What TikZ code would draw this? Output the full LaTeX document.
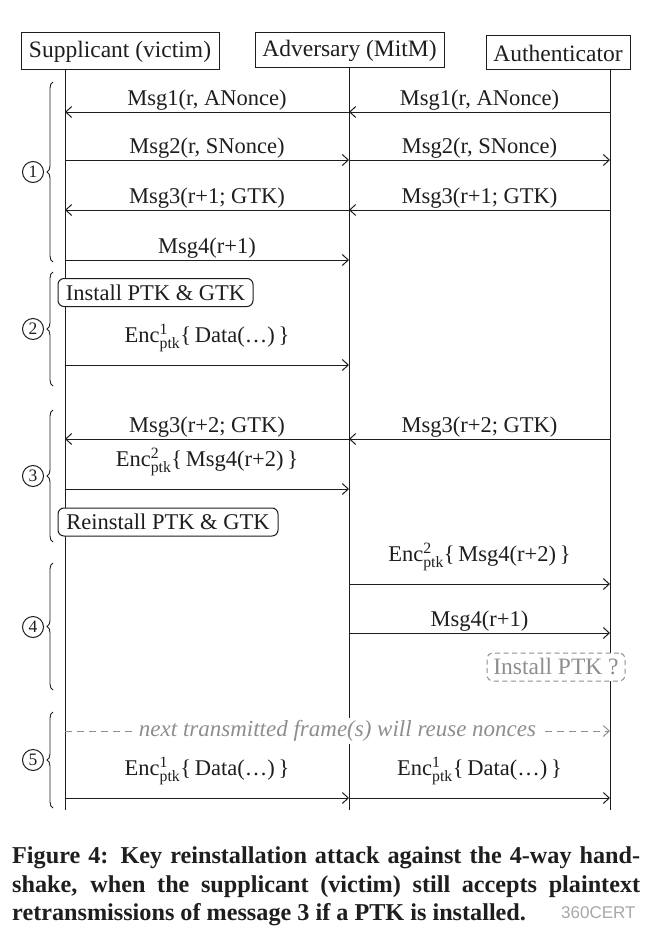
\documentclass[tikz,border=0pt]{standalone}
\usepackage{amsmath}
\usepackage{fontspec}
\setmainfont{Liberation Serif}
\newfontfamily\wmfont{Liberation Sans}
\usetikzlibrary{arrows.meta,decorations.pathreplacing}
\definecolor{ink}{HTML}{1E1E1E}
\definecolor{grayink}{HTML}{8E8E8E}
\definecolor{wmgray}{HTML}{A8A8A8}
\begin{document}
\begin{tikzpicture}[x=1pt,y=-1pt,
  actor/.style={draw=ink, line width=1pt, font=\fontsize{23.5}{27}\selectfont, text=ink, inner sep=0pt},
  life/.style={draw=ink, line width=1pt},
  msg/.style={draw=ink, line width=1pt, -{Straight Barb[length=6pt,width=11pt]}},
  lbl/.style={font=\fontsize{22.5}{26}\selectfont, text=ink, inner sep=0pt, anchor=base, yshift=7pt},
  enclbl/.style={lbl, yshift=16pt},
  statebox/.style={draw=ink, line width=1pt, rounded corners=6pt, fill=white, text=ink,
    font=\fontsize{22.5}{26}\selectfont, inner sep=0pt, minimum height=28pt},
  grp/.style={draw=ink, line width=0.9pt, decorate, decoration={brace, amplitude=6pt}},
  num/.style={draw=ink, circle, line width=1pt, minimum size=21pt, inner sep=0pt, text=ink,
    font=\fontsize{17.5}{17.5}\selectfont},
  caption/.style={font=\fontsize{24.2}{28}\selectfont\bfseries, text=ink, inner sep=0pt, anchor=base west},
]
\useasboundingbox (0,0) rectangle (653,942);
\fill[white] (0,0) rectangle (653,942);

% actors
\node[actor, minimum width=198pt, minimum height=37pt] (sup) at (120,51.5) {Supplicant (victim)};
\node[actor, minimum width=189pt, minimum height=35pt] (adv) at (349.5,50.5) {Adversary (MitM)};
\node[actor, minimum width=144pt, minimum height=34pt] (auth) at (558,53) {Authenticator};

% lifeline end points
\coordinate (sEnd) at (65,810);
\coordinate (aEnd) at (349,810);
\coordinate (tEnd) at (610,810);
\draw[life] (sEnd |- sup.south) -- (sEnd);
\draw[life] (aEnd |- adv.south) -- (aEnd);
\draw[life] (tEnd |- auth.south) -- (tEnd);

% row coordinates
\foreach \n/\y in {1/112,2/160,3/210,4/260,6/365,7/439,8/489,10/584,11/633,13/731,14/798} {
  \coordinate (s\n) at (65,\y);
  \coordinate (a\n) at (349,\y);
  \coordinate (t\n) at (610,\y);
}

% group 1
\draw[msg] (t1) -- node[lbl]{Msg1(r, ANonce)} (a1);
\draw[msg] (a1) -- node[lbl]{Msg1(r, ANonce)} (s1);
\draw[msg] (s2) -- node[lbl]{Msg2(r, SNonce)} (a2);
\draw[msg] (a2) -- node[lbl]{Msg2(r, SNonce)} (t2);
\draw[msg] (t3) -- node[lbl]{Msg3(r+1; GTK)} (a3);
\draw[msg] (a3) -- node[lbl]{Msg3(r+1; GTK)} (s3);
\draw[msg] (s4) -- node[lbl]{Msg4(r+1)} (a4);

% group 2
\node[statebox, minimum width=195pt] (inst) at (155.5,292.5) {Install PTK \& GTK};
\draw[msg] (s6) -- node[enclbl]{Enc$^{\text{1}}_{\text{ptk}}$\{\,Data(\dots)\,\}} (a6);

% group 3
\draw[msg] (t7) -- node[lbl]{Msg3(r+2; GTK)} (a7);
\draw[msg] (a7) -- node[lbl]{Msg3(r+2; GTK)} (s7);
\draw[msg] (s8) -- node[enclbl]{Enc$^{\text{2}}_{\text{ptk}}$\{\,Msg4(r+2)\,\}} (a8);
\node[statebox, minimum width=220pt] (reinst) at (168,522) {Reinstall PTK \& GTK};

% group 4
\draw[msg] (a10) -- node[enclbl]{Enc$^{\text{2}}_{\text{ptk}}$\{\,Msg4(r+2)\,\}} (t10);
\draw[msg] (a11) -- node[lbl]{Msg4(r+1)} (t11);
\node[statebox, draw=grayink, text=grayink, dashed, dash pattern=on 5pt off 3.5pt, minimum width=138pt,
  font=\fontsize{23.5}{27}\selectfont] (q) at (556,667) {Install PTK ?};

% group 5
\draw[draw=grayink, line width=1pt, dash pattern=on 7pt off 5pt, -{Straight Barb[length=6pt,width=11pt]}]
  (s13) -- node[fill=white, text=grayink, inner xsep=6pt, inner ysep=2pt, font=\fontsize{23}{27}\selectfont\itshape]{next transmitted frame(s) will reuse nonces} (t13);
\draw[msg] (s14) -- node[enclbl]{Enc$^{\text{1}}_{\text{ptk}}$\{\,Data(\dots)\,\}} (a14);
\draw[msg] (a14) -- node[enclbl]{Enc$^{\text{1}}_{\text{ptk}}$\{\,Data(\dots)\,\}} (t14);

% braces and numbers
\draw[grp] (53,262) -- (53,82);
\draw[grp] (53,386) -- (53,272);
\draw[grp] (53,542) -- (53,410);
\draw[grp] (53,690) -- (53,563);
\draw[grp] (53,808) -- (53,712);
\node[num] (n1) at (33,172) {1};
\node[num] (n2) at (33,329) {2};
\node[num] (n3) at (33,476) {3};
\node[num] (n4) at (33,627) {4};
\node[num] (n5) at (33,760) {5};

% caption
\node[caption] (cap1) at (12,863) {\makebox[628pt][s]{Figure 4: Key reinstallation attack against the 4-way hand-}};
\node[caption] (cap2) at (12,892) {\makebox[628pt][s]{shake, when the supplicant (victim) still accepts plaintext}};
\node[caption] (cap3) at (12,920) {retransmissions of message 3 if a PTK is installed.};
\node[text=wmgray, font=\fontsize{17}{17}\wmfont, inner sep=0pt, anchor=base west] (wm) at (561,918) {360CERT};
\end{tikzpicture}
\end{document}
